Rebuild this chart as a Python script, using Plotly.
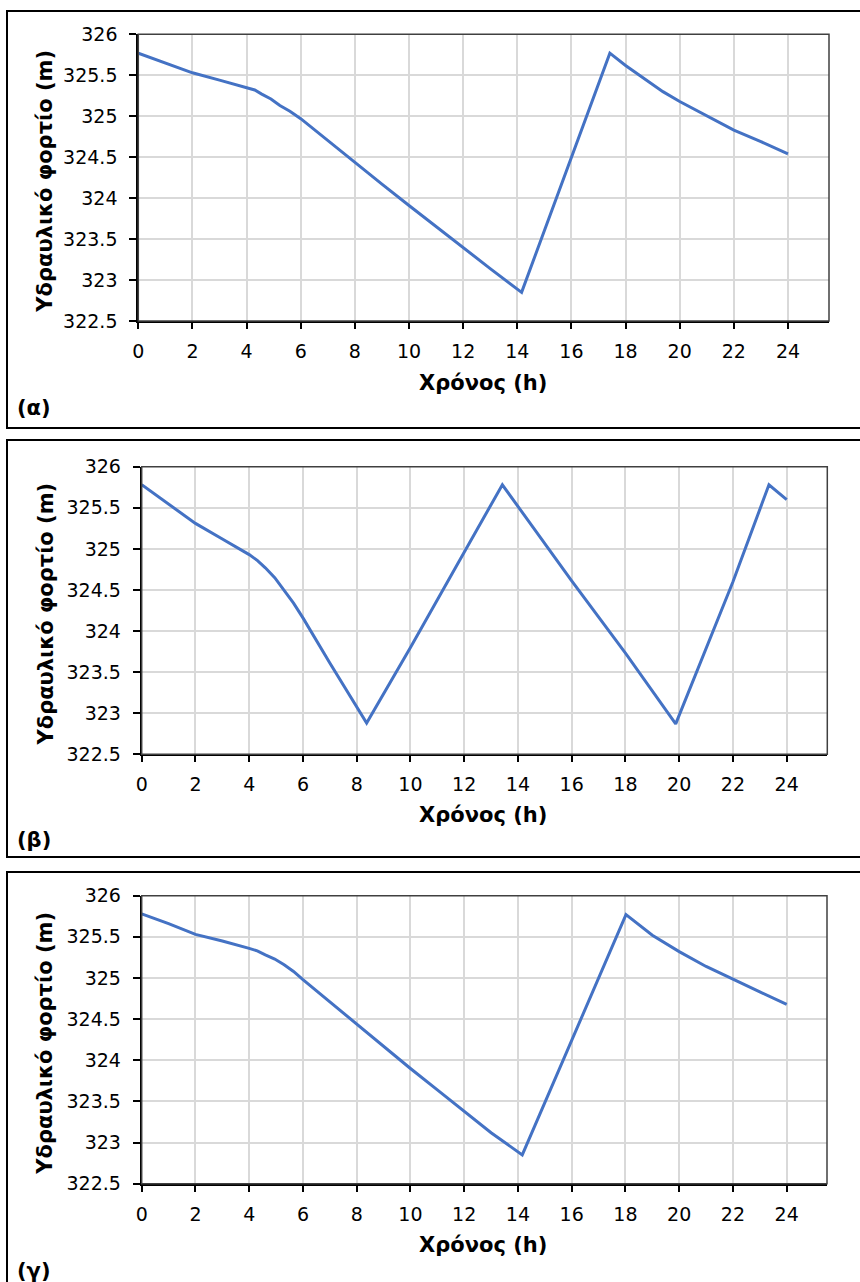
import plotly.graph_objects as go

W, H = 860, 1282

# ---- data ----
t_a = [0, 1, 2, 3, 4, 4.3, 4.56, 4.9, 5.23, 5.6, 6, 7, 8, 9, 10, 11, 12, 13, 14.16, 16, 17.42, 18, 19.38, 20, 21, 22, 23, 24]
h_a = [325.77, 325.65, 325.53, 325.44, 325.35, 325.32, 325.27, 325.21, 325.13, 325.06, 324.97, 324.70,
       324.44, 324.17, 323.91, 323.65, 323.39, 323.14, 322.85, 324.50, 325.77, 325.62, 325.30, 325.18,
       325.00, 324.83, 324.69, 324.54]

t_b = [0, 1, 2, 3, 4, 4.3, 4.6, 4.95, 5.3, 5.65, 6, 7, 8.37, 10, 12, 13.42, 16, 18, 19.87, 22, 23.34, 24]
h_b = [325.78, 325.55, 325.31, 325.12, 324.93, 324.86, 324.77, 324.65, 324.50, 324.34, 324.16, 323.61,
       322.88, 323.80, 324.96, 325.78, 324.61, 323.73, 322.87, 324.60, 325.78, 325.60]

t_c = [0, 1, 2, 3, 4, 4.3, 4.6, 4.95, 5.3, 5.65, 6, 7, 8, 9, 10, 11, 12, 13, 14.16, 16, 18.02, 19, 20, 21, 22, 23, 24]
h_c = [325.78, 325.66, 325.53, 325.45, 325.36, 325.33, 325.28, 325.23, 325.16, 325.08, 324.98, 324.71,
       324.43, 324.16, 323.90, 323.64, 323.38, 323.12, 322.85, 324.24, 325.77, 325.52, 325.32, 325.14,
       324.98, 324.83, 324.68]

x_ticks = list(range(0, 25, 2))
y_ticks = [322.5, 323, 323.5, 324, 324.5, 325, 325.5, 326]
y_tick_text = ["322.5", "323", "323.5", "324", "324.5", "325", "325.5", "326"]

x_title = "Χρόνος (h)"
y_title = "Υδραυλικό φορτίο (m)"
labels = ["(α)", "(β)", "(γ)"]

series = [(t_a, h_a), (t_b, h_b), (t_c, h_c)]

# ---- layout in pixels ----
areas = [
    (138.3, 829.0, 34.3, 321.0),
    (141.7, 827.3, 466.7, 754.3),
    (141.7, 827.0, 895.7, 1183.7),
]
px_per_hour = [27.07, 26.875, 26.875]
boxes = [(7, 11, 428), (7, 440, 857), (7, 872, 1295)]
xtitle_y = [383, 815, 1245]
label_y = [408, 840, 1271]

def px(x):
    return x / W

def py(y):
    return 1 - y / H

FONT = "DejaVu Sans"
BLUE = "#4472C4"

fig = go.Figure()
shapes = []
annotations = []

for i, ((t, h), (l, r, top, bot)) in enumerate(zip(series, areas)):
    n = "" if i == 0 else str(i + 1)
    xa = "x" + n
    ya = "y" + n
    fig.add_trace(go.Scatter(x=t, y=h, mode="lines", xaxis=xa, yaxis=ya,
                             line=dict(color=BLUE, width=3), showlegend=False,
                             hoverinfo="skip"))
    xmax = (r - l) / px_per_hour[i]
    fig.layout["xaxis" + n] = dict(
        domain=[px(l), px(r)], anchor=ya, range=[0, xmax], automargin=False,
        tickmode="array", tickvals=x_ticks, ticktext=[str(v) for v in x_ticks],
        showgrid=True, gridcolor="#d9d9d9", gridwidth=1.5,
        showline=True, linecolor="black", linewidth=2,
        ticks="outside", ticklen=6, tickwidth=2, tickcolor="black",
        ticklabelstandoff=6,
        tickfont=dict(family=FONT, size=19, color="black"),
        zeroline=False, fixedrange=True,
    )
    fig.layout["yaxis" + n] = dict(
        domain=[py(bot), py(top)], anchor=xa, range=[322.5, 326], automargin=False,
        tickmode="array", tickvals=y_ticks, ticktext=y_tick_text,
        showgrid=True, gridcolor="#d9d9d9", gridwidth=1.5,
        showline=True, linecolor="black", linewidth=2,
        ticks="outside", ticklen=7, tickwidth=2, tickcolor="black",
        ticklabelstandoff=8,
        tickfont=dict(family=FONT, size=19, color="black"),
        zeroline=False, fixedrange=True,
    )
    shapes.append(dict(type="rect", xref="paper", yref="paper",
                       x0=px(l), x1=px(r), y0=py(bot), y1=py(top),
                       line=dict(color="#404040", width=1.5), layer="above"))
    bx, btop, bbot = boxes[i]
    shapes.append(dict(type="rect", xref="paper", yref="paper",
                       x0=px(bx), x1=px(W + 20), y0=py(bbot), y1=py(btop),
                       line=dict(color="black", width=2)))
    annotations.append(dict(text=x_title, xref="paper", yref="paper",
                            x=px(483), y=py(xtitle_y[i]), showarrow=False,
                            xanchor="center", yanchor="middle",
                            font=dict(family=FONT, size=21, color="black", weight="bold")))
    annotations.append(dict(text=y_title, xref="paper", yref="paper",
                            x=px(45), y=py((top + bot) / 2 + 4), showarrow=False,
                            textangle=-90, xanchor="center", yanchor="middle",
                            font=dict(family=FONT, size=21, color="black", weight="bold")))
    annotations.append(dict(text=labels[i], xref="paper", yref="paper",
                            x=px(15), y=py(label_y[i]), showarrow=False,
                            xanchor="left", yanchor="middle",
                            font=dict(family=FONT, size=21, color="black", weight="bold")))

fig.update_layout(
    width=W, height=H,
    margin=dict(l=0, r=0, t=0, b=0, pad=0, autoexpand=False),
    paper_bgcolor="white", plot_bgcolor="white",
    shapes=shapes, annotations=annotations,
    showlegend=False,
)

fig.write_html("out.html", config={"displayModeBar": False},
               post_script="document.body.style.margin='0px';document.body.style.overflow='hidden';")
